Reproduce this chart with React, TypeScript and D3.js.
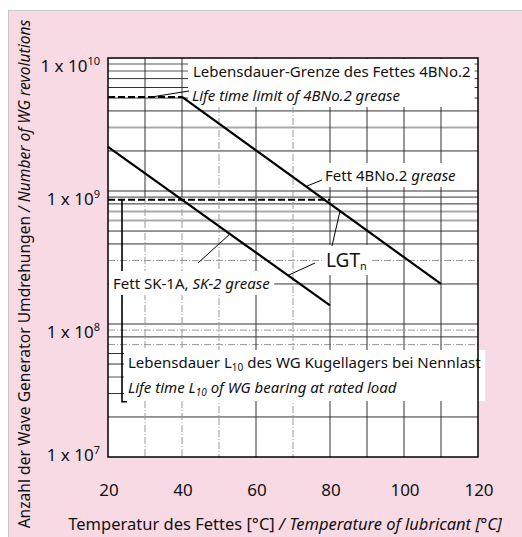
import React, { useLayoutEffect, useRef, useState } from "react";
import * as d3 from "d3";

// ---- data ----
const gridTemperatures = [30, 40, 50, 60, 70, 80, 90, 100, 110];
const xTickLabels = [20, 40, 60, 80, 100, 120];
const yDecades = [1e7, 1e8, 1e9, 1e10];
const yDecadeExponents = ["7", "8", "9", "10"];

const grease4BNo2Temp = [40, 110];
const grease4BNo2Rev = [5.1e9, 2.0e8];
const greaseSKTemp = [20, 80];
const greaseSKRev = [2.15e9, 1.38e8];
const limit4BNo2Temp = [20, 40];
const limit4BNo2Rev = [5.1e9, 5.1e9];
const bearingL10Temp = [20, 80];
const bearingL10Rev = [8.6e8, 8.6e8];

const grayMinor = [9e9, 8e9, 3e9, 7e8, 6e8, 4e7];
const dashDotMinor = [3e8, 9e7, 7e7];

// ---- layout ----
const W = 522;
const H = 537;
const plot = { left: 108, right: 478, top: 58, bottom: 457 };
const FONT = "'Noto Sans', 'Open Sans', sans-serif";
const PINK = "#f8dae5";

function zip(ts: number[], vs: number[]) {
  return ts.map((t, i) => [t, vs[i]] as [number, number]);
}
function valueAt(ts: number[], vs: number[], t: number) {
  const f = (t - ts[0]) / (ts[1] - ts[0]);
  return Math.pow(10, Math.log10(vs[0]) + f * (Math.log10(vs[1]) - Math.log10(vs[0])));
}

export default function App() {
  const x = d3.scaleLinear().domain([20, 120]).range([plot.left, plot.right]);
  const y = d3.scaleLog().domain([1e7, 1e10]).range([plot.bottom, plot.top]);
  const line = d3
    .line<[number, number]>()
    .x((d) => x(d[0]))
    .y((d) => y(d[1]));

  const minors: number[] = [];
  for (let k = 7; k <= 9; k++) for (let m = 2; m <= 9; m++) minors.push(m * Math.pow(10, k));

  const refs = useRef<(SVGGElement | null)[]>([]);
  const [boxes, setBoxes] = useState<{ x: number; y: number; w: number; h: number }[]>([]);
  useLayoutEffect(() => {
    const b = refs.current.map((g) => {
      if (!g) return { x: 0, y: 0, w: 0, h: 0 };
      const bb = g.getBBox();
      return { x: bb.x - 4, y: bb.y - 2, w: bb.width + 8, h: bb.height + 4 };
    });
    setBoxes(b);
  }, []);

  const darkGrid = { stroke: "#333", strokeWidth: 1 };
  const grayGrid = { stroke: "#aaa", strokeWidth: 2 };
  const ddGrid = { stroke: "#999", strokeWidth: 1, strokeDasharray: "7 2 1 2" };

  const hStyle = (v: number) =>
    grayMinor.includes(v) ? grayGrid : dashDotMinor.includes(v) ? ddGrid : darkGrid;

  const tSK = x.invert(230);
  const tLow = x.invert(288);
  const tB1 = x.invert(306);
  const tB2 = x.invert(340);
  const tLim = x.invert(152);
  const tBr = x.invert(122);

  const annotations = [
    <g key="a0" ref={(el) => (refs.current[0] = el)}>
      <text x={193} y={77}>Lebensdauer-Grenze des Fettes 4BNo.2</text>
      <text x={192} y={101} fontStyle="italic">Life time limit of 4BNo.2 grease</text>
    </g>,
    <g key="a1" ref={(el) => (refs.current[1] = el)}>
      <text x={325} y={181}>
        Fett 4BNo.2 <tspan fontStyle="italic">grease</tspan>
      </text>
    </g>,
    <g key="a2" ref={(el) => (refs.current[2] = el)}>
      <text x={326} y={267} fontSize={19}>
        LGT<tspan fontSize={11} dy={3}>n</tspan>
      </text>
    </g>,
    <g key="a3" ref={(el) => (refs.current[3] = el)}>
      <text x={113} y={289}>
        Fett SK-1A, <tspan fontStyle="italic">SK-2 grease</tspan>
      </text>
    </g>,
    <g key="a4" ref={(el) => (refs.current[4] = el)}>
      <text x={128} y={368}>
        Lebensdauer L<tspan fontSize={10} dy={3}>10</tspan>
        <tspan dy={-3}> des WG Kugellagers bei Nennlast</tspan>
      </text>
      <text x={128} y={393} fontStyle="italic">
        Life time L<tspan fontSize={10} dy={3}>10</tspan>
        <tspan dy={-3}> of WG bearing at rated load</tspan>
      </text>
    </g>,
  ];

  return (
    <svg
      width={W}
      height={H}
      style={{ position: "absolute", left: 0, top: 0, fontFamily: FONT }}
      fontSize={15}
    >
      <rect x={8.5} y={10.5} width={W - 8} height={H - 10} fill={PINK} stroke="#c9c9c9" />
      <rect x={plot.left} y={plot.top} width={plot.right - plot.left} height={plot.bottom - plot.top} fill="#fff" />

      {/* horizontal grid */}
      {minors.map((v) => (
        <line key={"h" + v} x1={plot.left} x2={plot.right} y1={y(v)} y2={y(v)} {...hStyle(v)} />
      ))}
      {yDecades.slice(1, 3).map((v) => (
        <line key={"hd" + v} x1={plot.left} x2={plot.right} y1={y(v)} y2={y(v)} {...darkGrid} />
      ))}

      {/* vertical grid */}
      {gridTemperatures.map((t) => {
        if (t === 30 || t === 40)
          return (
            <g key={"v" + t}>
              <line x1={x(t)} x2={x(t)} y1={plot.top} y2={y(9e8)} {...darkGrid} />
              <line x1={x(t)} x2={x(t)} y1={y(9e8)} y2={plot.bottom} {...ddGrid} />
            </g>
          );
        if (t === 50 || t === 70)
          return <line key={"v" + t} x1={x(t)} x2={x(t)} y1={plot.top} y2={plot.bottom} {...ddGrid} />;
        return <line key={"v" + t} x1={x(t)} x2={x(t)} y1={plot.top} y2={plot.bottom} {...darkGrid} />;
      })}

      {/* label boxes */}
      {boxes.map((b, i) => (
        <rect key={"b" + i} x={b.x} y={b.y} width={b.w} height={b.h} fill="#fff" />
      ))}

      {/* L10 bracket */}
      <path
        d={`M${x(tBr)},${y(bearingL10Rev[0])}V${y(2.6e7)}H${x(tBr) + 5}`}
        fill="none"
        stroke="#000"
        strokeWidth={1.6}
      />
      {boxes[3] && <rect x={boxes[3].x} y={boxes[3].y} width={boxes[3].w} height={boxes[3].h} fill="#fff" />}

      {/* leaders */}
      <g stroke="#000" strokeWidth={1}>
        <line x1={x(tLim)} y1={y(limit4BNo2Rev[0])} x2={189} y2={91} />
        <line x1={x(tB1)} y1={y(valueAt(grease4BNo2Temp, grease4BNo2Rev, tB1))} x2={322} y2={180} />
        <line x1={x(tB2)} y1={y(valueAt(grease4BNo2Temp, grease4BNo2Rev, tB2))} x2={332} y2={246} />
        <line x1={x(tLow)} y1={y(valueAt(greaseSKTemp, greaseSKRev, tLow))} x2={315} y2={263} />
        <line x1={x(tSK)} y1={y(valueAt(greaseSKTemp, greaseSKRev, tSK))} x2={198} y2={263} />
      </g>

      {/* data lines */}
      <path d={line(zip(limit4BNo2Temp, limit4BNo2Rev)) || ""} fill="none" stroke="#000" strokeWidth={2} strokeDasharray="7 3" />
      <path d={line(zip(bearingL10Temp, bearingL10Rev)) || ""} fill="none" stroke="#000" strokeWidth={2} strokeDasharray="7 3" />
      <path d={line(zip(grease4BNo2Temp, grease4BNo2Rev)) || ""} fill="none" stroke="#000" strokeWidth={2.2} />
      <path d={line(zip(greaseSKTemp, greaseSKRev)) || ""} fill="none" stroke="#000" strokeWidth={2.2} />

      {/* frame */}
      <rect x={plot.left} y={plot.top} width={plot.right - plot.left} height={plot.bottom - plot.top} fill="none" stroke="#000" strokeWidth={1.5} />

      {/* annotations */}
      <g fill="#111">{annotations}</g>

      {/* y tick labels */}
      {yDecades.map((v, i) => (
        <text key={"yl" + v} x={100} y={Math.min(y(v) + 14, plot.bottom + 4)} textAnchor="end" fontSize={17} fill="#111">
          1 x 10<tspan fontSize={11} dy={-7}>{yDecadeExponents[i]}</tspan>
        </text>
      ))}

      {/* x tick labels */}
      {xTickLabels.map((t) => (
        <text key={"xl" + t} x={x(t) + 1} y={496} textAnchor="middle" fontSize={17} fill="#111">
          {t}
        </text>
      ))}

      {/* axis titles */}
      <text x={285} y={530} textAnchor="middle" fontSize={16.5} fill="#111">
        Temperatur des Fettes [°C] <tspan fontStyle="italic">/ Temperature of lubricant [°C]</tspan>
      </text>
      <text transform="translate(30,274) rotate(-90)" textAnchor="middle" fontSize={15.6} fill="#111">
        Anzahl der Wave Generator Umdrehungen <tspan fontStyle="italic">/ Number of WG revolutions</tspan>
      </text>
    </svg>
  );
}
